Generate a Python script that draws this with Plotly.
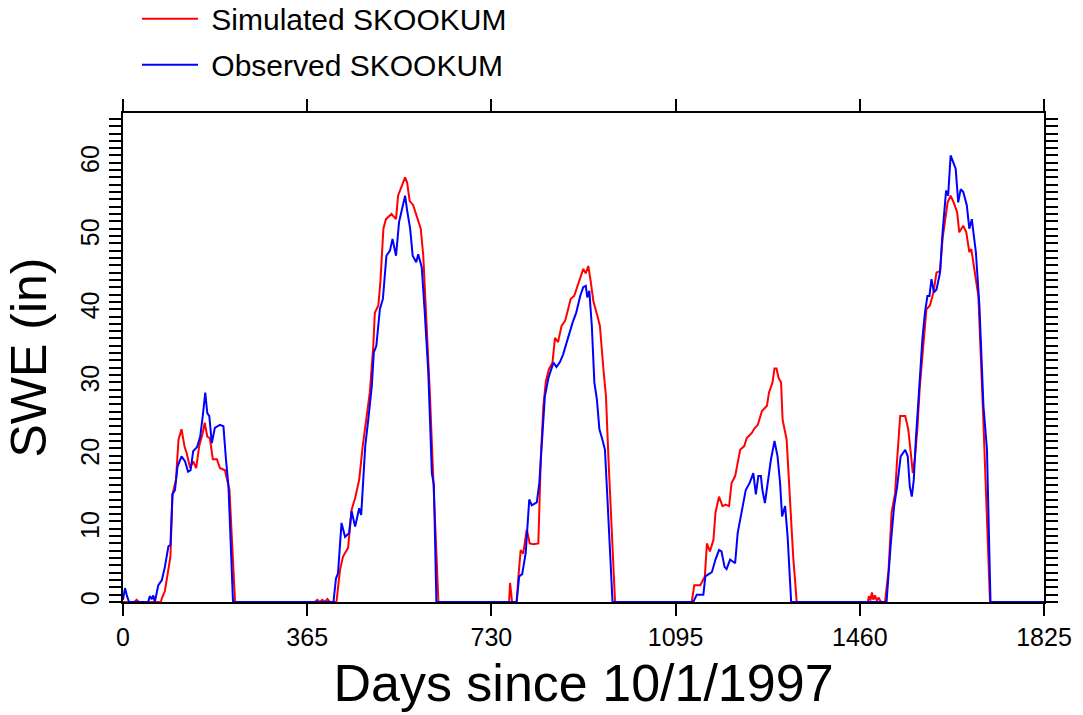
import plotly.graph_objects as go

# Simulated SWE (in) at SKOOKUM
sim_days = [0, 22, 27, 32, 75, 77, 83, 90, 94, 98, 105, 110, 116, 122, 126, 133, 139, 145, 151, 158,
            162, 167, 172, 178, 186, 192, 202, 211, 222,
            380, 385, 390, 395, 400, 405, 410, 423, 430, 436, 446, 453, 460, 468, 475, 481, 489, 496,
            499, 506, 510, 516, 521, 532, 541, 545, 554, 559, 563, 568, 575, 583, 590, 595, 602, 608,
            616, 625,
            765, 767, 771, 780, 783, 788, 793, 800, 806, 813, 823, 828, 833, 838, 844, 851, 856, 862,
            869, 876, 882, 887, 894, 900, 907, 912, 917, 922, 927, 932, 940, 945, 952, 957, 962, 968,
            975,
            1127, 1132, 1144, 1153, 1157, 1163, 1170, 1174, 1181, 1188, 1194, 1201, 1206, 1213, 1218,
            1223, 1231, 1236, 1246, 1251, 1258, 1266, 1276, 1280, 1287, 1291, 1295, 1299, 1304, 1307,
            1315, 1322, 1328, 1335,
            1476, 1478, 1481, 1484, 1487, 1490, 1494, 1497, 1502, 1510, 1517, 1523, 1530, 1534, 1540,
            1550, 1556, 1561, 1565, 1569, 1574, 1579, 1586, 1592, 1599, 1606, 1612, 1619, 1624, 1629,
            1634, 1640, 1646, 1653, 1657, 1665, 1671, 1677, 1681, 1686, 1695, 1705, 1713, 1718, 1825]
sim_swe = [0, 0, 0.3, 0, 0, 0.5, 1.5, 4.8, 6.2, 14.7, 16.7, 22.2, 23.6, 21.2, 20.4, 18.3, 19.2, 18.3,
           21.3, 23.1, 24.5, 22.6, 22.4, 19.5, 19.5, 18.3, 18.0, 15.3, 0,
           0, 0.3, 0, 0.3, 0, 0.4, 0, 0, 4.4, 6.2, 7.4, 12.6, 14.2, 16.7, 21.3, 24.5, 28.6, 35, 39.5,
           40.5, 43.7, 51, 52.3, 53, 52.3, 55.5, 57.3, 58, 57.3, 54.8, 54.2, 52.3, 51, 47.3, 37.7,
           28.6, 14.9, 0,
           0, 2.6, 0, 0, 3.0, 7.1, 6.6, 9.9, 8.0, 7.9, 8.0, 19.9, 26.8, 30.2, 31.8, 32.7, 36.1, 35.5,
           37.7, 38.4, 40, 41.4, 41.8, 43, 44.6, 45.5, 44.9, 45.9, 43.7, 41.1, 39.1, 37.7, 31.8, 28.1,
           19.5, 9.4, 0,
           0, 2.3, 2.3, 3.5, 8, 6.9, 8.5, 12.2, 14.4, 13.1, 13.3, 13.1, 16.3, 17.2, 19, 20.8, 21.3,
           22.4, 23.1, 23.7, 24.2, 26.1, 26.8, 28.6, 30, 31.9, 31.9, 30.6, 30, 24.9, 22.2, 14, 6.2, 0,
           0, 0.8, 0.2, 1.3, 0.3, 0.9, 0.2, 0.6, 0, 0, 4.4, 12.2, 14.9, 19.5, 25.4, 25.4, 23.6, 20.4,
           17.6, 19.5, 23.6, 29.5, 35, 40, 40.5, 42.3, 45, 45.2, 49.6, 51.9, 54.6, 55.5, 54.6, 53.2,
           50.5, 51.4, 50.5, 47.8, 48.2, 45.9, 41.8, 24.5, 8.5, 0, 0]

# Observed SWE (in) at SKOOKUM
obs_days = [0, 4, 8, 12, 50, 53, 57, 60, 63, 70, 77, 83, 90, 94, 98, 103, 108, 116, 123, 129, 134,
            139, 147, 153, 158, 163, 167, 171, 176, 182, 192, 199, 204, 209, 218,
            417, 422, 426, 433, 440, 448, 453, 460, 468, 472, 480, 486, 493, 497, 502, 509, 515, 522,
            529, 534, 541, 547, 554, 559, 563, 569, 574, 581, 585, 592, 598, 605, 612, 616, 621,
            780, 785, 791, 798, 805, 810, 820, 825, 830, 836, 843, 853, 859, 866, 872, 879, 886, 891,
            898, 906, 912, 917, 920, 924, 929, 934, 939, 944, 949, 955, 960, 965, 970,
            1130, 1137, 1150, 1154, 1163, 1167, 1174, 1181, 1186, 1192, 1196, 1203, 1209, 1213, 1218,
            1223, 1229, 1234, 1242, 1249, 1254, 1259, 1264, 1267, 1272, 1277, 1284, 1291, 1297, 1302,
            1306, 1312, 1317, 1324,
            1513, 1521, 1528, 1534, 1541, 1550, 1555, 1559, 1563, 1567, 1571, 1578, 1584, 1589, 1594,
            1598, 1602, 1607, 1612, 1619, 1624, 1631, 1635, 1640, 1645, 1650, 1655, 1660, 1665, 1672,
            1677, 1682, 1686, 1690, 1697, 1705, 1712, 1715, 1719, 1825]
obs_swe = [0.3, 1.9, 0.8, 0, 0, 0.8, 0.4, 0.9, 0, 2.3, 3.0, 4.8, 7.6, 7.8, 14.7, 15.3, 18.5, 19.9,
           19.2, 17.8, 18.0, 20.6, 21.2, 22.6, 25.4, 28.6, 25.8, 25.4, 21.7, 23.8, 24.2, 24.0, 19.5,
           15.8, 0,
           0, 3.2, 3.9, 10.8, 8.9, 9.4, 12.4, 10.3, 12.8, 11.9, 21.3, 24.9, 29.5, 34.1, 35, 40, 41.4,
           47.3, 48, 49.6, 47.3, 51.9, 54.2, 55.5, 53.5, 51, 47.3, 46.4, 47.5, 45.7, 39.5, 31.3, 17.6,
           16, 0,
           0, 3.5, 3.8, 6.7, 14, 13.2, 13.6, 16.3, 21.7, 28.1, 30.6, 32.7, 32.1, 32.8, 33.8, 35.4,
           37.3, 38.2, 39.5, 41.8, 43, 43.2, 41.6, 42.5, 37.7, 30, 27.7, 23.6, 22.4, 20.8, 14, 7.1, 0,
           0, 1, 1, 3.5, 3.9, 4.1, 5.8, 7.1, 6.9, 4.8, 4.5, 5.8, 5.5, 5.3, 9.4, 11.2, 13.1, 15.3,
           16.3, 17.6, 14.7, 17.2, 17.2, 15.3, 13.5, 16.3, 19.5, 22, 19.9, 16.3, 11.7, 13.1, 8.9, 0,
           0, 7.6, 13.1, 15.8, 19.9, 20.8, 19.9, 15.8, 14.4, 16.7, 22.2, 29.5, 35.9, 39.5, 41.8, 41.8,
           44.1, 42.3, 42.7, 45, 50.5, 56.2, 55.5, 61, 60.1, 59.2, 54.6, 56.4, 56, 54.2, 51, 52.3, 50,
           47.8, 40.5, 26.8, 20.8, 13.1, 0, 0]

x_ticks = [0, 365, 730, 1095, 1460, 1825]
series_names = ["Simulated SKOOKUM", "Observed SKOOKUM"]
series_colors = ["#ff0000", "#0000ff"]

FONT = "Liberation Sans, Arial, Helvetica, sans-serif"

fig = go.Figure()
fig.add_trace(go.Scatter(x=sim_days, y=sim_swe, mode="lines", name="\u00a0" + series_names[0],
                         legendgroup="a", line=dict(color=series_colors[0], width=2)))
fig.add_trace(go.Scatter(x=obs_days, y=obs_swe, mode="lines", name="\u00a0" + series_names[1],
                         legendgroup="b", line=dict(color=series_colors[1], width=2)))

fig.update_layout(
    width=1083, height=715,
    margin=dict(l=123, r=39, t=113, b=113, autoexpand=False),
    paper_bgcolor="white", plot_bgcolor="white",
    font=dict(family=FONT, color="black"),
    showlegend=True,
    legend=dict(x=0.0152, y=1.246, xanchor="left", yanchor="top",
                font=dict(size=30, family=FONT), itemwidth=56, tracegroupgap=4,
                bgcolor="rgba(0,0,0,0)"),
    xaxis=dict(range=[0, 1825], tickvals=x_ticks, ticktext=[str(v) for v in x_ticks],
               ticks="outside", ticklen=12, tickwidth=2, tickcolor="black",
               showline=True, linewidth=2, linecolor="black", mirror="ticks",
               showgrid=False, zeroline=False, tickfont=dict(size=25),
               title=dict(text="Days since 10/1/1997", font=dict(size=52), standoff=15)),
    yaxis=dict(range=[0, 66.8], tick0=0, dtick=10, tickangle=-90,
               ticks="outside", ticklen=12, tickwidth=2, tickcolor="black",
               minor=dict(dtick=1, ticks="outside", ticklen=12, tickwidth=1.5, tickcolor="black"),
               showline=True, linewidth=2, linecolor="black", mirror="ticks",
               showgrid=False, zeroline=False, tickfont=dict(size=25),
               title=dict(text="SWE (in)", font=dict(size=50), standoff=14)),
)

fig.write_html("out.html")
